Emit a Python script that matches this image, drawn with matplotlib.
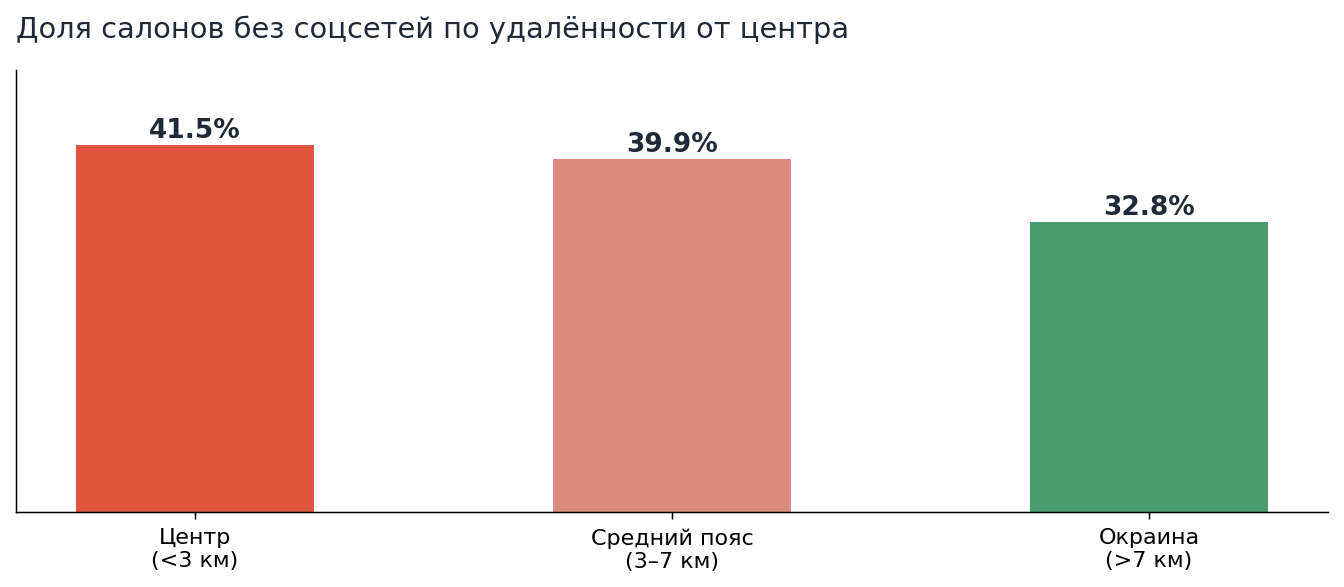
import matplotlib
matplotlib.use("Agg")
import matplotlib.pyplot as plt

categories = ["Центр\n(<3 км)", "Средний пояс\n(3–7 км)", "Окраина\n(>7 км)"]
shares = [41.5, 39.9, 32.8]
colors = ["#E0553D", "#D98B7E", "#4A9C6E"]
title = "Доля салонов без соцсетей по удалённости от центра"

text_color = "#1F2937"
scale = 1.34

fig = plt.figure(figsize=(13.44, 5.87), dpi=100)
ax = fig.add_axes([0.0119, 0.1278, 0.9762, 0.7529])

positions = list(range(len(categories)))
bars = ax.bar(positions, shares, width=0.5, color=colors)

for bar, value in zip(bars, shares):
    ax.text(bar.get_x() + bar.get_width() / 2, value + 0.1, f"{value:.1f}%",
            ha="center", va="bottom", fontsize=19, fontweight="bold",
            color=text_color)

ax.set_xlim(-0.375, 2.375)
ax.set_ylim(0, 50)
ax.set_xticks(positions)
ax.set_xticklabels(categories, fontsize=16)
ax.set_yticks([])
ax.tick_params(axis="x", length=3.5 * scale, width=0.8 * scale, pad=7)
ax.spines["top"].set_visible(False)
ax.spines["right"].set_visible(False)
for side in ("left", "bottom"):
    ax.spines[side].set_linewidth(0.8 * scale)

fig.text(0.0119, 0.949, title, ha="left", va="center", fontsize=20.8,
         color=text_color)

fig.savefig("out.png", dpi=100)
